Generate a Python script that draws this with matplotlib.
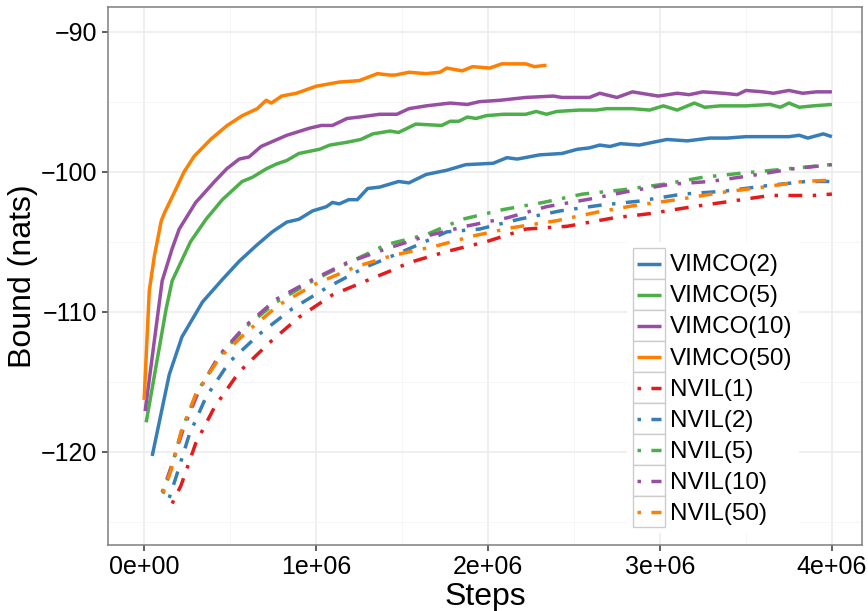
import numpy as np
import matplotlib
matplotlib.use("Agg")
import matplotlib.pyplot as plt
from matplotlib.legend_handler import HandlerLine2D
from matplotlib.patches import Rectangle
from matplotlib.lines import Line2D

plt.rcParams['font.family'] = ['Liberation Sans', 'DejaVu Sans']

# ---------------- data (steps in millions, bound in nats) ----------------
vimco2_x = [0.047, 0.146, 0.22, 0.34, 0.455, 0.553, 0.65, 0.745, 0.83, 0.9, 0.98, 1.06, 1.095,
            1.135, 1.19, 1.24, 1.3, 1.37, 1.48, 1.54, 1.64, 1.76, 1.87, 2.03, 2.11, 2.17, 2.3,
            2.43, 2.52, 2.59, 2.65, 2.71, 2.77, 2.88, 3.04, 3.16, 3.29, 3.39, 3.5, 3.64, 3.75,
            3.81, 3.86, 3.95, 4.0]
vimco2_y = [-120.3, -114.5, -111.8, -109.3, -107.7, -106.4, -105.3, -104.3, -103.6, -103.4,
            -102.8, -102.5, -102.2, -102.3, -102.0, -102.0, -101.2, -101.1, -100.7, -100.8,
            -100.2, -99.9, -99.5, -99.4, -99.0, -99.1, -98.8, -98.7, -98.4, -98.3, -98.1, -98.2,
            -98.0, -98.1, -97.7, -97.8, -97.6, -97.6, -97.5, -97.5, -97.5, -97.4, -97.6, -97.3,
            -97.5]

vimco5_x = [0.012, 0.128, 0.163, 0.27, 0.36, 0.455, 0.57, 0.63, 0.71, 0.77, 0.83, 0.9, 1.02,
            1.08, 1.18, 1.26, 1.33, 1.43, 1.48, 1.58, 1.73, 1.78, 1.83, 1.88, 1.93, 1.99, 2.09,
            2.22, 2.28, 2.34, 2.4, 2.53, 2.63, 2.69, 2.84, 2.94, 3.02, 3.1, 3.2, 3.26, 3.35, 3.5,
            3.64, 3.7, 3.75, 3.81, 3.89, 4.0]
vimco5_y = [-117.9, -109.8, -107.8, -105.0, -103.4, -102.0, -100.7, -100.4, -99.8, -99.45,
            -99.2, -98.7, -98.4, -98.1, -97.9, -97.7, -97.3, -97.1, -97.2, -96.6, -96.7, -96.4,
            -96.4, -96.1, -96.2, -96.0, -95.9, -95.9, -95.7, -95.9, -95.7, -95.6, -95.6, -95.5,
            -95.5, -95.6, -95.3, -95.6, -95.1, -95.4, -95.3, -95.3, -95.2, -95.4, -95.1, -95.4,
            -95.3, -95.2]

vimco10_x = [0.006, 0.105, 0.163, 0.204, 0.3, 0.41, 0.48, 0.553, 0.61, 0.68, 0.83, 0.96, 1.03,
             1.095, 1.18, 1.25, 1.37, 1.47, 1.54, 1.64, 1.78, 1.88, 1.95, 2.07, 2.22, 2.38, 2.43,
             2.59, 2.65, 2.75, 2.84, 2.99, 3.1, 3.17, 3.25, 3.37, 3.45, 3.5, 3.6, 3.66, 3.75,
             3.83, 3.91, 4.0]
vimco10_y = [-117.1, -107.8, -105.5, -104.1, -102.2, -100.7, -99.8, -99.1, -98.95, -98.2,
             -97.4, -96.9, -96.7, -96.7, -96.2, -96.1, -95.9, -95.9, -95.5, -95.3, -95.1, -95.2,
             -95.0, -94.9, -94.7, -94.6, -94.7, -94.7, -94.4, -94.7, -94.3, -94.6, -94.4, -94.5,
             -94.3, -94.4, -94.5, -94.2, -94.3, -94.4, -94.2, -94.4, -94.3, -94.3]

vimco50_x = [0.0, 0.03, 0.06, 0.1, 0.12, 0.175, 0.233, 0.291, 0.39, 0.483, 0.571, 0.658, 0.71,
             0.74, 0.80, 0.885, 1.0, 1.135, 1.25, 1.357, 1.43, 1.46, 1.54, 1.64, 1.72, 1.76,
             1.85, 1.91, 2.01, 2.08, 2.22, 2.27, 2.34]
vimco50_y = [-116.3, -108.5, -106.0, -103.5, -102.9, -101.5, -100.0, -98.9, -97.66, -96.7,
             -96.0, -95.5, -94.9, -95.1, -94.6, -94.4, -93.9, -93.6, -93.5, -93.0, -93.1, -93.1,
             -92.9, -93.0, -92.9, -92.6, -92.8, -92.5, -92.6, -92.3, -92.3, -92.5, -92.4]

nvil1_x = [0.163, 0.215, 0.3, 0.41, 0.553, 0.73, 0.9, 1.095, 1.31, 1.43, 1.54, 1.76, 1.99, 2.22,
           2.46, 2.73, 2.94, 3.19, 3.42, 3.64, 3.89, 4.0]
nvil1_y = [-123.7, -122.4, -119.4, -116.8, -114.3, -112.2, -110.4, -108.8, -107.7, -107.1,
           -106.5, -105.7, -105.0, -104.1, -103.9, -103.3, -103.0, -102.5, -102.1, -101.7,
           -101.7, -101.6]

nvil2_x = [0.146, 0.186, 0.262, 0.36, 0.495, 0.67, 0.86, 1.06, 1.29, 1.37, 1.56, 1.76, 1.95,
           2.18, 2.42, 2.65, 2.88, 3.13, 3.37, 3.62, 3.85, 4.0]
nvil2_y = [-123.3, -121.8, -118.8, -116.1, -113.6, -111.6, -109.8, -108.3, -106.8, -106.4,
           -105.4, -104.3, -104.1, -103.4, -102.8, -102.4, -102.1, -101.6, -101.4, -101.0,
           -100.7, -100.7]

nvil5_x = [0.11, 0.157, 0.22, 0.31, 0.437, 0.59, 0.77, 0.98, 1.19, 1.41, 1.64, 1.85, 2.09, 2.32,
           2.55, 2.78, 3.02, 3.25, 3.48, 3.74, 3.99]
nvil5_y = [-123.0, -121.2, -118.4, -115.7, -113.2, -111.1, -109.3, -107.8, -106.5, -105.2,
           -104.5, -103.4, -102.7, -102.2, -101.6, -101.3, -100.9, -100.4, -100.1, -99.8, -99.5]

nvil10_x = [0.105, 0.157, 0.23, 0.32, 0.437, 0.59, 0.77, 0.98, 1.18, 1.41, 1.64, 1.87, 2.11,
            2.34, 2.59, 2.82, 3.06, 3.29, 3.52, 3.77, 4.0]
nvil10_y = [-122.9, -121.1, -118.3, -115.6, -113.1, -111.0, -109.1, -107.7, -106.5, -105.5,
            -104.6, -103.9, -103.3, -102.5, -101.96, -101.4, -100.9, -100.7, -100.3, -99.8, -99.5]

nvil50_x = [0.11, 0.157, 0.215, 0.3, 0.437, 0.61, 0.786, 1.0, 1.23, 1.44, 1.7, 1.91, 2.14, 2.4,
            2.63, 2.86, 3.1, 3.35, 3.6, 3.83, 4.0]
nvil50_y = [-122.9, -121.3, -118.6, -115.9, -113.3, -111.3, -109.5, -108.0, -106.8, -106.0,
            -105.3, -104.6, -104.0, -103.5, -102.9, -102.4, -102.0, -101.5, -101.1, -100.7, -100.6]

series_labels = ['VIMCO(2)', 'VIMCO(5)', 'VIMCO(10)', 'VIMCO(50)',
                 'NVIL(1)', 'NVIL(2)', 'NVIL(5)', 'NVIL(10)', 'NVIL(50)']
series_x = [vimco2_x, vimco5_x, vimco10_x, vimco50_x, nvil1_x, nvil2_x, nvil5_x, nvil10_x, nvil50_x]
series_y = [vimco2_y, vimco5_y, vimco10_y, vimco50_y, nvil1_y, nvil2_y, nvil5_y, nvil10_y, nvil50_y]

x_ticks = [0, 1e6, 2e6, 3e6, 4e6]
x_ticklabels = ['0e+00', '1e+06', '2e+06', '3e+06', '4e+06']
y_ticks = [-120, -110, -100, -90]
y_ticklabels = ['\u2212120', '\u2212110', '\u2212100', '\u221290']

# ---------------- styling ----------------
colors = ['#377EB8', '#4DAF4A', '#984EA3', '#FF7F00',
          '#E41A1C', '#377EB8', '#4DAF4A', '#984EA3', '#FF7F00']
styles = ['-'] * 4 + [(0, (1, 3, 4, 3))] * 5

W, H = 868, 611
fig = plt.figure(figsize=(W / 100, H / 100), dpi=100)
L, R, T, B = 108, 862, 7, 545
ax = fig.add_axes([L / W, 1 - B / H, (R - L) / W, (B - T) / H])

for xs, ys, lab, c, ls in zip(series_x, series_y, series_labels, colors, styles):
    ax.plot(np.array(xs) * 1e6, ys, color=c, linestyle=ls, linewidth=2.5, label=lab,
            solid_capstyle='butt', dash_capstyle='butt', zorder=3)

ax.set_xlim(-0.21e6, 4.175e6)
ax.set_ylim(-126.66, -88.24)

ax.set_xticks(x_ticks)
ax.set_xticklabels(x_ticklabels)
ax.set_yticks(y_ticks)
ax.set_yticklabels(y_ticklabels)
ax.set_xticks([0.5e6, 1.5e6, 2.5e6, 3.5e6], minor=True)
ax.set_yticks([-125, -115, -105, -95], minor=True)

ax.grid(True, which='major', color='#EBEBEB', linewidth=1.1, zorder=0)
ax.grid(True, which='minor', color='#F5F5F5', linewidth=0.6, zorder=0)
ax.set_axisbelow(True)

ax.tick_params(axis='both', which='major', direction='out', length=4.5, width=1.1,
               color='#333333', labelsize=18, labelcolor='black', pad=3)
ax.tick_params(axis='both', which='minor', length=0)

for s in ax.spines.values():
    s.set_color('#7F7F7F')
    s.set_linewidth(1.1)

ax.set_xlabel('Steps', fontsize=23, labelpad=2)
ax.set_ylabel('Bound (nats)', fontsize=23)
ax.yaxis.set_label_coords(-0.093, 0.5)


class BoxedLine(HandlerLine2D):
    def create_artists(self, legend, orig_handle, xdescent, ydescent, width, height,
                       fontsize, trans):
        rect = Rectangle((-xdescent, -ydescent), width, height, facecolor='white',
                         edgecolor='#CCCCCC', linewidth=1.0, transform=trans)
        yc = -ydescent + height / 2
        pad = 0.17 * fontsize
        line = Line2D([-xdescent + pad, -xdescent + width - pad], [yc, yc])
        self.update_prop(line, orig_handle, legend)
        line.set_transform(trans)
        return [rect, line]


fs = 17.5
fs_px = fs * 100 / 72
leg = ax.legend(handler_map={Line2D: BoxedLine()}, loc='upper left',
                bbox_to_anchor=(627 / W, 1 - 242 / H), bbox_transform=fig.transFigure,
                fontsize=fs, frameon=True, fancybox=False, framealpha=1,
                facecolor='white', edgecolor='none', borderpad=6 / fs_px,
                labelspacing=0, handlelength=32 / fs_px, handleheight=1.586,
                handletextpad=5 / fs_px, borderaxespad=0)
leg.set_zorder(5)

fig.savefig('out.png', dpi=100)
